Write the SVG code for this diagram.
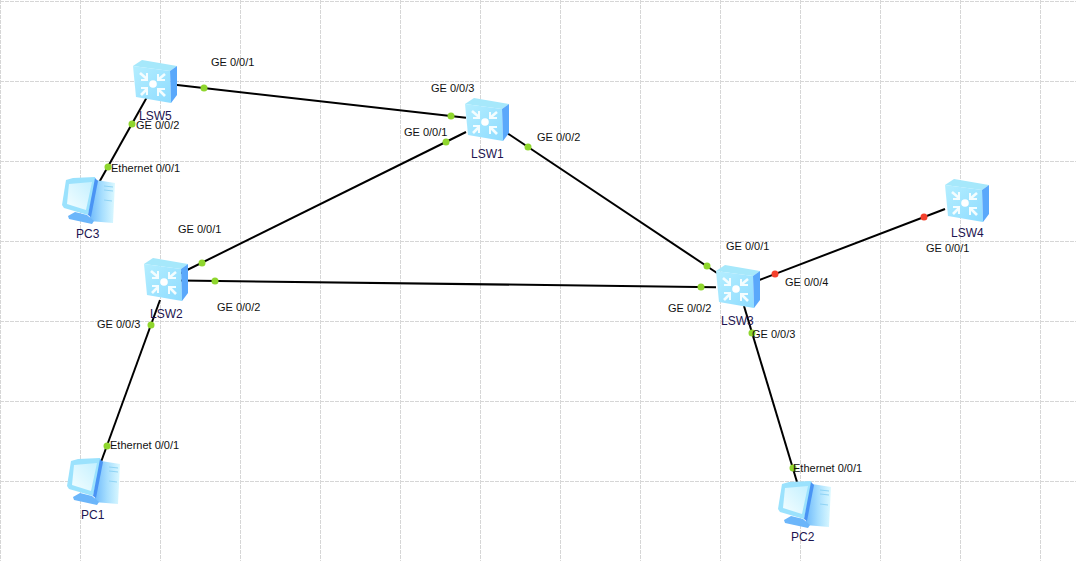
<svg xmlns="http://www.w3.org/2000/svg" width="1076" height="561" viewBox="0 0 1076 561">
<style>
text{font-family:"Liberation Sans",Arial,sans-serif}
.p{font-size:11px;fill:#111}
.n{font-size:12px;fill:#1c1450}
.g{stroke:#d6d6d6;stroke-width:1;stroke-dasharray:4 1;fill:none}
.c{stroke:#000;stroke-width:2;fill:none}
.d{fill:#8fd62e}
.r{fill:#f4402c}
.a{stroke:#f4fdff;stroke-width:2.600;fill:none;stroke-linejoin:miter}
</style>
<defs>
<linearGradient id="scr" x1="0" y1="1" x2="1" y2="0"><stop offset="0" stop-color="#f4feff"/><stop offset="1" stop-color="#c4f0ff"/></linearGradient>
<linearGradient id="tow" x1="0" y1="0" x2="1" y2="0"><stop offset="0" stop-color="#6cb8fb"/><stop offset="0.500" stop-color="#a6defe"/><stop offset="1" stop-color="#dcf9ff"/></linearGradient>
<linearGradient id="fr" x1="0" y1="0" x2="1" y2="1"><stop offset="0" stop-color="#b4eeff"/><stop offset="1" stop-color="#8fdcff"/></linearGradient>
<g id="sw">
<path d="M0 6L9 0L44 6L37 11Z" fill="#a6e8fb"/>
<path d="M0 6L37 11L38 43L3 37Z" fill="url(#fr)"/>
<path d="M37 11L44 6L44 35L38 43Z" fill="#5aa8fb"/>
<circle cx="20" cy="24" r="3.800" fill="#fff"/>
<g class="a">
<path d="M7 13L14 19"/><path d="M14 13V20H8" stroke-width="2"/>
<path d="M32 14L26 19"/><path d="M25 14V20H32" stroke-width="2"/>
<path d="M8 35L14 29"/><path d="M14 35V28H8" stroke-width="2"/>
<path d="M32 36L26 30"/><path d="M25 36V29H32" stroke-width="2"/>
</g>
</g>
<g id="pc">
<path d="M35 3L54 6L52 46L28 44Z" fill="url(#tow)"/>
<path d="M43 9L52 10M43 13L52 14M43 23L51 24" stroke="#8fd4f5" fill="none"/>
<path d="M7 39L14 35L26 38L33 44L31 47L8 42Z" fill="#6cb6fa"/>
<path d="M5 3L12 1L34 0L35 4L27 38L3 31L1 28Z" fill="#9be2fd"/>
<path d="M8 7L31 5L25 33L6 27Z" fill="url(#scr)"/>
<path d="M34 1L37 4L30 40L27 38Z" fill="#4a94f4"/>
</g>
</defs>
<g id="grid" class="g">
<path d="M0.500 0V561M80.500 0V561M160.500 0V561M240.500 0V561M320.500 0V561M400.500 0V561M480.500 0V561M560.500 0V561M640.500 0V561M720.500 0V561M800.500 0V561M880.500 0V561M960.500 0V561M1040.500 0V561"/>
<path d="M0 1.500H1076M0 81.500H1076M0 161.500H1076M0 241.500H1076M0 321.500H1076M0 401.500H1076M0 481.500H1076"/>
</g>
<g id="connectors" class="c">
<path d="M175 84.700L466 117.700"/>
<path d="M147 97L92 195"/>
<path d="M466 132L175 276"/>
<path d="M180 280.500L716 287.200"/>
<path d="M507 133L717 273"/>
<path d="M758 280.500L945 209"/>
<path d="M744 306L797 482"/>
<path d="M160 300L101 462"/>
</g>
<g id="LSW5"><use href="#sw" x="133" y="60"/><text class="n" x="139" y="120">LSW5</text></g>
<g id="LSW1"><use href="#sw" x="465" y="98"/><text class="n" x="471" y="158">LSW1</text></g>
<g id="LSW2"><use href="#sw" x="144" y="258"/><text class="n" x="150" y="318">LSW2</text></g>
<g id="LSW3"><use href="#sw" x="716" y="265"/><text class="n" x="721" y="325">LSW3</text></g>
<g id="LSW4"><use href="#sw" x="945" y="179"/><text class="n" x="951" y="237">LSW4</text></g>
<g id="PC3"><use href="#pc" x="61" y="177"/><text class="n" x="76" y="238">PC3</text></g>
<g id="PC1"><use href="#pc" x="66" y="458"/><text class="n" x="81" y="519">PC1</text></g>
<g id="PC2"><use href="#pc" x="777" y="481"/><text class="n" x="791" y="541">PC2</text></g>
<g id="ports">
<circle class="d" cx="204" cy="88" r="3.500"/><circle class="d" cx="451" cy="116" r="3.500"/>
<circle class="d" cx="132" cy="124" r="3.500"/><circle class="d" cx="108" cy="167" r="3.500"/>
<circle class="d" cx="446" cy="142" r="3.500"/><circle class="d" cx="202" cy="263" r="3.500"/>
<circle class="d" cx="215" cy="281" r="3.500"/><circle class="d" cx="701" cy="287" r="3.500"/>
<circle class="d" cx="528" cy="147" r="3.500"/><circle class="d" cx="707" cy="266" r="3.500"/>
<circle class="r" cx="775" cy="274" r="3.500"/><circle class="r" cx="924" cy="217" r="3.500"/>
<circle class="d" cx="752" cy="333" r="3.500"/><circle class="d" cx="793" cy="468" r="3.500"/>
<circle class="d" cx="151" cy="325" r="3.500"/><circle class="d" cx="107" cy="446" r="3.500"/>
<text class="p" x="211" y="66">GE 0/0/1</text>
<text class="p" x="431" y="92">GE 0/0/3</text>
<text class="p" x="136" y="129">GE 0/0/2</text>
<text class="p" x="111" y="172">Ethernet 0/0/1</text>
<text class="p" x="404" y="136">GE 0/0/1</text>
<text class="p" x="537" y="141">GE 0/0/2</text>
<text class="p" x="178" y="233">GE 0/0/1</text>
<text class="p" x="217" y="311">GE 0/0/2</text>
<text class="p" x="97" y="328">GE 0/0/3</text>
<text class="p" x="110" y="449">Ethernet 0/0/1</text>
<text class="p" x="726" y="250">GE 0/0/1</text>
<text class="p" x="785" y="286">GE 0/0/4</text>
<text class="p" x="668" y="312">GE 0/0/2</text>
<text class="p" x="752" y="338">GE 0/0/3</text>
<text class="p" x="926" y="252">GE 0/0/1</text>
<text class="p" x="793" y="472">Ethernet 0/0/1</text>
</g>
</svg>
